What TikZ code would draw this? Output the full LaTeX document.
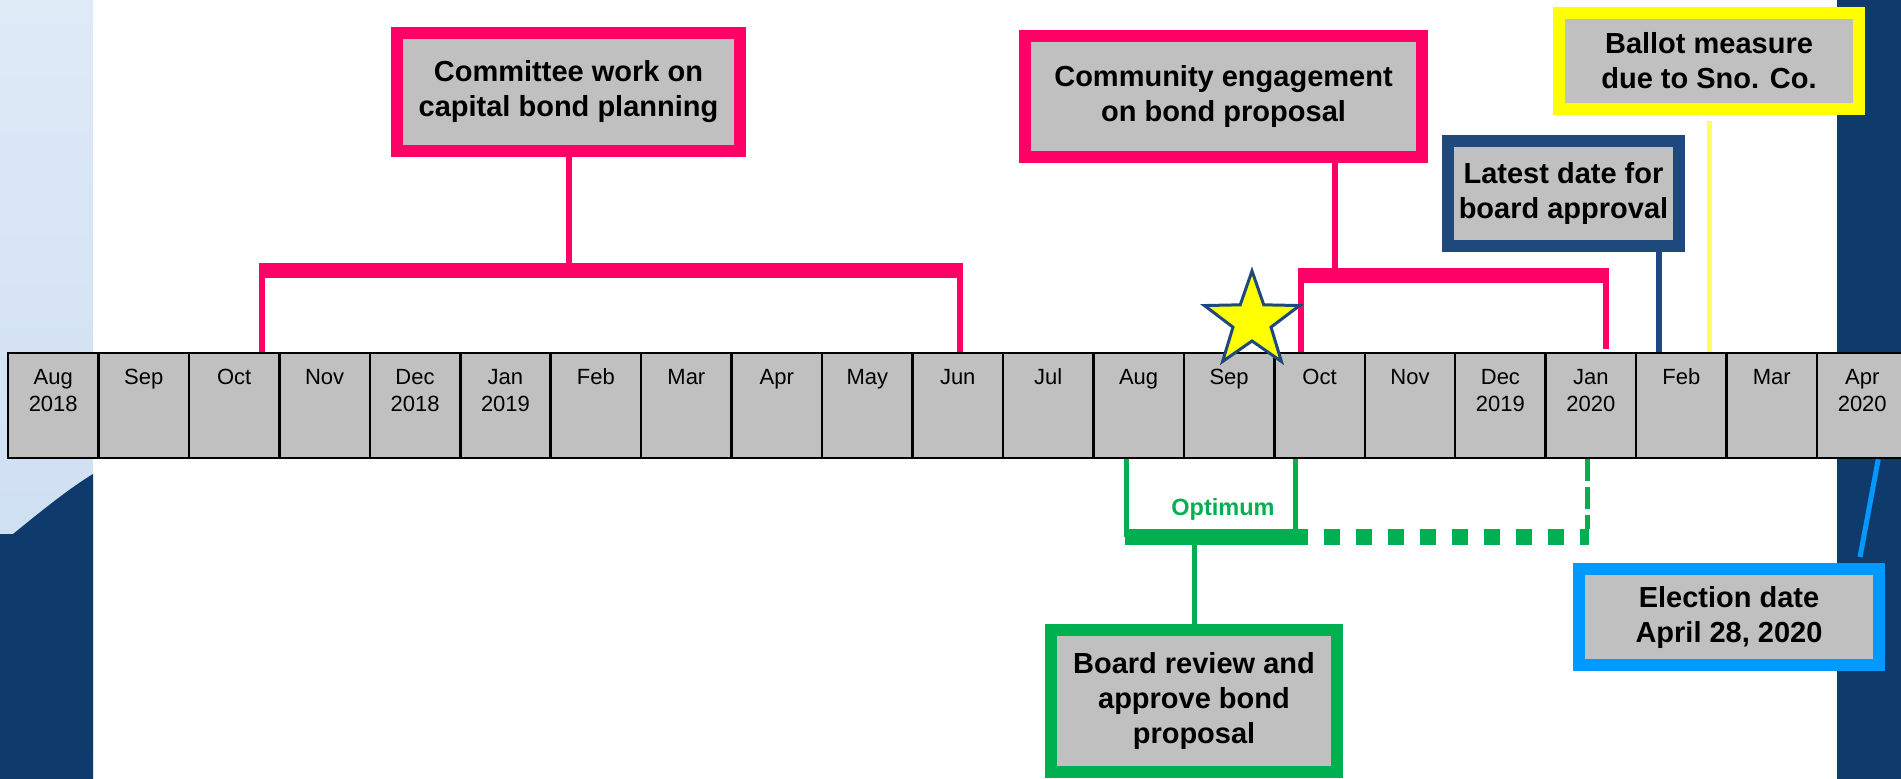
\documentclass[tikz,border=0pt]{standalone}
\usepackage{fontspec}
\setmainfont{Liberation Sans}
\usetikzlibrary{shapes.geometric,calc,positioning}
\definecolor{pinkc}{RGB}{255,0,102}
\definecolor{greenc}{RGB}{0,176,80}
\definecolor{bluec}{RGB}{0,153,255}
\definecolor{navyc}{RGB}{31,73,125}
\definecolor{yellowc}{RGB}{255,255,0}
\definecolor{paleyellow}{RGB}{255,255,102}
\definecolor{boxgray}{RGB}{192,192,192}
\definecolor{slidenavy}{RGB}{15,59,108}
\definecolor{slidetop}{RGB}{223,234,247}
\definecolor{slidelow}{RGB}{200,219,241}
\tikzstyle{planbox} = [rectangle, draw, fill=boxgray, line width=12pt, inner sep=0pt, align=center, font=\fontsize{29}{35}\selectfont\bfseries]
\tikzstyle{month} = [rectangle, draw=black, fill=boxgray, line width=2.5pt, minimum width=90.45pt, minimum height=105pt, inner sep=0pt]
\tikzstyle{monthtext} = [inner sep=0pt, anchor=north, align=center, font=\fontsize{22}{27}\selectfont]
\tikzstyle{leg} = [line width=6pt]
\tikzstyle{bar} = [line width=15pt]

\begin{document}
\begin{tikzpicture}[x=1pt, y=-1pt]
	\useasboundingbox (0,0) rectangle (1901,779);

	% slide background
	\shade[top color=slidetop, bottom color=slidelow] (0,0) rectangle (93,779);
	\fill[slidenavy] (0,534) -- (13,534) .. controls (45,508) and (70,488) .. (93,474) -- (93,779) -- (0,779) -- cycle;
	\fill[slidenavy] (1837,0) rectangle (1901,779);

	% timeline
	\foreach \lbl [count=\i from 0] in {{Aug\\2018},Sep,Oct,Nov,{Dec\\2018},{Jan\\2019},Feb,Mar,Apr,May,Jun,Jul,Aug,Sep,Oct,Nov,{Dec\\2019},{Jan\\2020},Feb,Mar,{Apr\\2020}}{
		\node[month] (m\i) at (8+90.45*\i+45.225, 405.5) {};
		\node[monthtext] (t\i) at ([yshift=-17pt]m\i.north) {\lbl};
	}

	% committee work
	\node[planbox, draw=pinkc, minimum width=343pt, minimum height=118pt] (committee) at (568.5,92) {Committee work on\\capital bond planning};
	\coordinate (cwL) at (262,270.5);
	\coordinate (cwR) at (960,270.5);
	\draw[pinkc, leg] (committee.south) -- (committee.south |- cwL);
	\draw[pinkc, bar] ([xshift=-3pt]cwL) -- ([xshift=3pt]cwR);
	\draw[pinkc, leg] (cwL) -- (cwL |- m2.north);
	\draw[pinkc, leg] (cwR) -- (cwR |- m10.north);

	% community engagement
	\node[planbox, draw=pinkc, minimum width=397pt, minimum height=121pt] (community) at (1223.5,96.5) {Community engagement\\on bond proposal};
	\coordinate (ceL) at (1300.5,275.5);
	\coordinate (ceR) at (1606,275.5);
	\draw[pinkc, leg] ([xshift=111.5pt]community.south) -- ([xshift=111.5pt]community.south |- ceL);
	\draw[pinkc, bar] ([xshift=-3pt]ceL) -- ([xshift=3pt]ceR);
	\draw[pinkc, leg] (ceL) -- (ceL |- m14.north);
	\draw[pinkc, leg] (ceR) -- ([yshift=3pt]ceR |- m17.north);

	% deadlines
	\node[planbox, draw=navyc, minimum width=231pt, minimum height=105pt] (latest) at (1563.5,193.5) {Latest date for\\board approval};
	\draw[navyc, line width=5.5pt] ([xshift=95.5pt]latest.south) -- ([xshift=95.5pt]latest.south |- m18.north);

	\node[planbox, draw=yellowc, minimum width=300pt, minimum height=96pt] (ballot) at (1709,61) {Ballot measure\\due to Sno. Co.};
	\draw[paleyellow, line width=5pt] ([yshift=-6pt]ballot.south) -- (ballot.south |- m18.north);

	\node[planbox, draw=bluec, minimum width=300pt, minimum height=96pt] (election) at (1729,617) {Election date\\April 28, 2020};
	\draw[bluec, line width=5pt] ([xshift=16pt]m20.south) -- ([xshift=131pt,yshift=6pt]election.north);

	% board review
	\node[planbox, draw=greenc, minimum width=286pt, minimum height=142pt] (board) at (1194,701) {Board review and\\approve bond\\proposal};
	\coordinate (optL) at (1126,537);
	\coordinate (optR) at (1295,537);
	\coordinate (lastR) at (1587,537);
	\draw[greenc, line width=5pt] (optL |- m12.south) -- (optL);
	\draw[greenc, line width=5pt] (optR |- m14.south) -- (optR);
	\draw[greenc, line width=16pt] ([xshift=-1pt]optL) -- ([xshift=2pt]optR);
	\draw[greenc, line width=16pt, dash pattern=on 16pt off 16pt] ([xshift=-3pt]optR) -- ([xshift=2pt]lastR);
	\draw[greenc, line width=5pt, dash pattern=on 22pt off 6pt] (lastR |- m17.south) -- ([yshift=8pt]lastR);
	\draw[greenc, line width=5pt] (board.north) -- ([yshift=-8pt]board.north |- optL);
	\node[font=\fontsize{23.5}{28}\selectfont\bfseries, text=greenc, inner sep=0pt] (optimum) at (1223,509) {Optimum};

	% kick-off star
	\node[star, star points=5, star point ratio=2.5, minimum size=100pt, inner sep=0pt, fill=yellowc, draw=navyc, line width=3pt] (kickoff) at (1252,321) {};

\end{tikzpicture}
\end{document}
